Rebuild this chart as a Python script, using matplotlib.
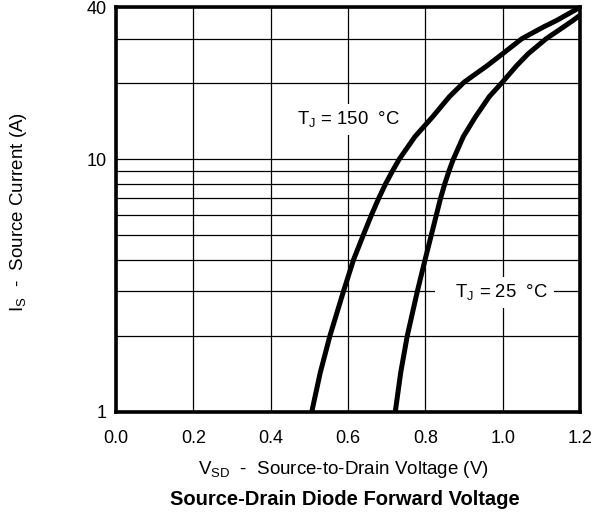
import numpy as np
import matplotlib.pyplot as plt
from matplotlib.ticker import FixedLocator, NullFormatter

plt.rcParams['font.family'] = ['Liberation Sans', 'DejaVu Sans']

# curves
v_150 = [0.506, 0.528, 0.553, 0.588, 0.614, 0.639, 0.660, 0.679, 0.697, 0.715, 0.732,
         0.773, 0.818, 0.862, 0.900, 0.960, 1.000, 1.049, 1.105, 1.140, 1.2]
i_150 = [1, 1.43, 2, 3, 4, 5, 6, 7, 8, 9, 10,
         12.3, 14.7, 17.7, 20.2, 23.5, 26.2, 30, 33.4, 35.5, 40]
v_25 = [0.722, 0.736, 0.753, 0.779, 0.799, 0.815, 0.828, 0.839, 0.850, 0.861, 0.872,
        0.898, 0.929, 0.965, 0.999, 1.036, 1.066, 1.112, 1.157, 1.182, 1.2]
i_25 = [1, 1.43, 2, 3, 4, 5, 6, 7, 8, 9, 10,
        12.3, 14.7, 17.7, 20.2, 23.5, 26.2, 30, 33.4, 35.5, 37.2]

x_ticks = [0.0, 0.2, 0.4, 0.6, 0.8, 1.0, 1.2]
y_major = [1, 10, 40]
y_minor = [2, 3, 4, 5, 6, 7, 8, 9, 20, 30]

fig = plt.figure(figsize=(5.95, 5.15), dpi=100)
ax = fig.add_axes([0.195, 0.2, 0.78, 0.786])

ax.set_yscale('log')
ax.set_xlim(0, 1.2)
ax.set_ylim(1, 40)
ax.set_xticks(x_ticks)
ax.set_xticklabels(['%.1f' % t for t in x_ticks])
ax.yaxis.set_major_locator(FixedLocator(y_major))
ax.yaxis.set_minor_locator(FixedLocator(y_minor))
ax.yaxis.set_minor_formatter(NullFormatter())
ax.set_yticklabels([str(t) for t in y_major])
ax.tick_params(which='both', length=0, labelsize=13)
ax.tick_params(axis='x', pad=13)
ax.tick_params(axis='y', pad=7)

ax.grid(True, which='both', color='black', linewidth=0.9)
ax.set_axisbelow(True)
for s in ax.spines.values():
    s.set_linewidth(2.6)

ax.plot(v_150, i_150, color='black', linewidth=3.6, solid_capstyle='butt',
        solid_joinstyle='round', zorder=3)
ax.plot(v_25, i_25, color='black', linewidth=3.6, solid_capstyle='butt',
        solid_joinstyle='round', zorder=3)

box = dict(facecolor='white', edgecolor='none', pad=4)
ax.text(0.6, 14.4, r'T$_\mathregular{J}$ = 150  °C', ha='center', va='center',
        fontsize=13.3, bbox=box, zorder=2.5)
ax.text(1.117, 2.98, r'   T$_\mathregular{J}$ = 25  °C', ha='right', va='center',
        fontsize=13.3, bbox=box, zorder=2.5)

ax.set_xlabel(r'V$_\mathregular{SD}$  -  Source-to-Drain Voltage (V)', fontsize=13.5, va='center')
ax.xaxis.set_label_coords(0.49, -0.141)
ax.set_ylabel(r'I$_\mathregular{S}$  -  Source Current (A)', fontsize=13.5, va='center')
ax.yaxis.set_label_coords(-0.211, 0.495)
fig.text(0.58, 0.031, 'Source-Drain Diode Forward Voltage', ha='center', va='center',
         fontsize=14.5, fontweight='bold')

fig.savefig('out.png', dpi=100)
